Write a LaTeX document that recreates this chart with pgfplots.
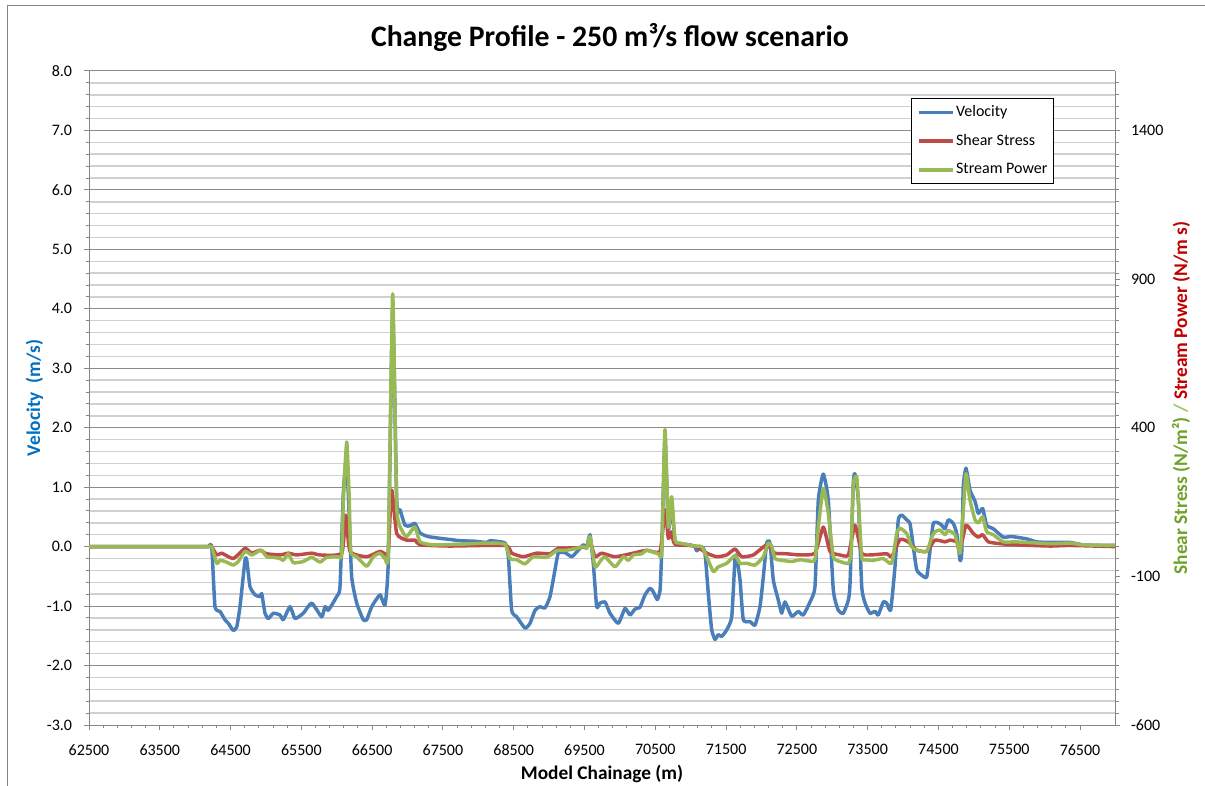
\documentclass[border=0pt]{standalone}
\usepackage{fontspec}
\setmainfont{Carlito}
\usepackage{pgfplots}
\usepackage{pgfplotstable}
\pgfplotsset{compat=1.18}

\definecolor{velblue}{HTML}{4A7EBB}
\definecolor{shearred}{HTML}{BE4B48}
\definecolor{powgreen}{HTML}{98B954}
\definecolor{gridmaj}{HTML}{8C8C8C}
\definecolor{gridmin}{HTML}{D0D0D0}
\definecolor{axisgray}{HTML}{868686}
\definecolor{labblue}{HTML}{0070C0}
\definecolor{labgreen}{HTML}{6FA22A}
\definecolor{labslash}{HTML}{9BCB5A}
\definecolor{labred}{HTML}{C00000}

% velocity (m/s)
\pgfplotstableread{
x v
62500 0
63000 0
63500 0
64000 0
64180 0
64233 0
64280 -1.01
64351 -1.09
64421 -1.23
64468 -1.29
64539 -1.41
64587 -1.35
64633 -1.01
64704 -0.23
64728 -0.22
64774 -0.67
64845 -0.81
64916 -0.84
64940 -0.79
64986 -1.12
65033 -1.21
65104 -1.12
65198 -1.15
65245 -1.23
65340 -1.01
65410 -1.21
65527 -1.12
65646 -0.95
65787 -1.18
65834 -1.01
65881 -1.07
65999 -0.84
66046 -0.67
66093 0.90
66138 1.50
66173 0.60
66211 -0.51
66282 -0.95
66375 -1.23
66423 -1.23
66494 -1.01
66611 -0.81
66682 -0.98
66728 -0.23
66790 4.00
66847 0.78
66894 0.62
66964 0.36
67035 0.35
67105 0.39
67176 0.23
67289 0.17
67459 0.14
67600 0.12
67741 0.10
67953 0.09
68118 0.07
68165 0.10
68377 0.06
68424 -0.17
68471 -1.07
68542 -1.18
68659 -1.37
68730 -1.29
68801 -1.07
68871 -1.01
68942 -1.03
69013 -0.84
69083 -0.39
69130 -0.11
69224 -0.10
69319 -0.17
69412 -0.06
69483 0.03
69531 0.00
69578 0.20
69624 -0.28
69672 -1.01
69719 -0.95
69790 -0.93
69860 -1.12
69977 -1.29
70072 -1.04
70143 -1.15
70213 -1.05
70284 -1.02
70355 -0.81
70425 -0.70
70472 -0.76
70528 -0.89
70567 -0.73
70591 -0.06
70637 1.85
70684 0.30
70732 0.70
70778 0.10
70849 0.05
70990 0.03
71061 0.00
71085 -0.07
71155 0.00
71202 -0.11
71249 -0.79
71297 -1.40
71344 -1.56
71390 -1.48
71438 -1.51
71509 -1.40
71580 -1.18
71626 -0.20
71650 -0.17
71697 -0.56
71743 -1.23
71838 -1.26
71909 -1.32
71979 -1.01
72026 -0.51
72074 0.06
72121 0.06
72167 -0.56
72238 -0.90
72286 -1.12
72332 -0.93
72427 -1.17
72520 -1.09
72591 -1.15
72686 -0.93
72756 -0.67
72803 0.78
72873 1.22
72944 0.78
73015 -0.73
73085 -1.07
73156 -1.12
73227 -0.90
73251 -0.62
73297 1.06
73321 1.22
73368 0.78
73416 -0.67
73463 -0.95
73533 -1.12
73604 -1.09
73650 -1.15
73721 -0.93
73769 -0.95
73825 -1.07
73886 -0.34
73933 0.45
73981 0.53
74052 0.45
74098 0.39
74145 0.00
74193 -0.39
74264 -0.48
74334 -0.51
74381 -0.06
74427 0.39
74498 0.40
74546 0.36
74593 0.30
74639 0.45
74710 0.39
74758 0.22
74805 -0.23
74829 -0.10
74851 1.01
74889 1.32
74946 0.95
75017 0.76
75063 0.56
75125 0.64
75182 0.36
75275 0.30
75416 0.16
75535 0.17
75747 0.13
75888 0.08
76076 0.07
76359 0.07
76542 0.03
76782 0.02
77000 0.02
}\velocity

% shear stress (right axis units)
\pgfplotstableread{
x s
62500 0
63000 0
63500 0
64000 0
64180 0
64233 0
64304 -28
64375 -22
64539 -40
64704 -6
64798 -22
64916 -12
65010 -24
65198 -28
65316 -22
65434 -28
65646 -22
65763 -28
66070 -22
66126 106
66187 -16
66423 -34
66611 -16
66706 -28
66728 -20
66776 190
66847 44
66988 22
67105 22
67176 6
67600 2
68377 4
68471 -22
68635 -34
68825 -22
69013 -24
69130 -6
69390 -4
69531 0
69578 20
69648 -34
69743 -22
69931 -34
70189 -22
70379 -12
70567 -16
70637 124
70684 28
70722 50
70778 8
71061 2
71226 -22
71368 -34
71509 -28
71626 -8
71721 -34
71885 -28
72074 6
72191 -22
72356 -24
72544 -28
72756 -22
72873 66
72968 -16
73109 -28
73227 -28
73321 72
73416 -22
73533 -28
73769 -24
73840 -34
73957 24
74074 16
74193 -12
74334 -16
74451 22
74593 16
74663 22
74758 16
74805 -12
74889 72
74993 44
75063 32
75125 40
75205 16
75370 10
75606 6
76076 2
76359 4
77000 0
}\shear

% stream power (right axis units)
\pgfplotstableread{
x p
62500 0
63000 0
63500 0
64000 0
64180 0
64233 0
64304 -56
64351 -46
64421 -50
64539 -62
64609 -50
64704 -16
64798 -28
64892 -16
64940 -12
65010 -34
65104 -36
65198 -40
65245 -46
65316 -24
65386 -54
65527 -50
65646 -36
65763 -52
65858 -36
66022 -34
66070 -30
66093 156
66141 352
66177 156
66197 -16
66282 -34
66423 -66
66516 -34
66611 -22
66682 -40
66728 -16
66790 850
66847 134
66918 56
66988 34
67105 66
67176 16
67360 6
67741 8
68118 12
68377 8
68447 -40
68542 -44
68659 -58
68777 -34
68966 -36
69107 -14
69249 -12
69390 -6
69483 0
69531 -6
69578 34
69648 -68
69719 -50
69790 -34
69931 -68
70048 -34
70119 -46
70189 -28
70308 -24
70379 -12
70543 -24
70591 -20
70637 394
70684 66
70732 168
70778 22
70849 12
71061 2
71155 0
71226 -34
71320 -84
71390 -68
71509 -56
71626 -30
71697 -56
71791 -56
71909 -62
72026 -34
72096 12
72144 2
72191 -40
72286 -46
72427 -50
72544 -44
72662 -48
72756 -44
72803 66
72873 196
72944 112
73015 -34
73109 -50
73227 -56
73265 -20
73297 210
73345 236
73368 160
73416 -34
73463 -44
73580 -46
73721 -40
73840 -56
73910 44
73957 62
74052 44
74122 0
74193 -12
74334 -16
74405 32
74451 50
74522 56
74593 40
74639 54
74734 40
74805 -22
74851 120
74889 246
74946 156
75017 90
75063 80
75125 100
75182 50
75275 40
75416 16
75606 16
76076 10
76359 12
76542 6
77000 4
}\power

\pgfplotsset{
  base/.style={
    scale only axis, width=769.8pt, height=490.5pt,
    at={(axsw)}, anchor=south west,
    xmin=62500, xmax=77000,
    tick align=outside,
    major tick length=3.5pt, minor tick length=2.5pt,
    tick style={axisgray, line width=0.75pt},
    axis line style={axisgray, line width=0.75pt},
    tick label style={font=\fontsize{12}{14}\selectfont,
      /pgf/number format/assume math mode=true},
  },
  ser/.style={line width=2.6pt, line join=round, smooth, tension=0.3},
}

\begin{document}
\begin{tikzpicture}[x=0.75pt,y=0.75pt]
\useasboundingbox (0,0) rectangle (1205,785);
\draw[axisgray, line width=0.75pt] (7,779) rectangle (1240,-20);
\coordinate (axsw) at (89,60);

\begin{axis}[base,
  ymin=-3, ymax=8, ytick={-3,-2,...,8}, minor y tick num=4,
  ymajorgrids, yminorgrids,
  major grid style={gridmaj, line width=0.75pt},
  minor grid style={gridmin, line width=1.1pt},
  axis x line*=bottom, axis y line*=left,
  xtick={62500,63500,...,76500}, minor x tick num=4,
  scaled x ticks=false,
  xticklabel style={anchor=north, inner sep=0pt, yshift=-11pt,
    /pgf/number format/fixed, /pgf/number format/1000 sep={}},
  yticklabel style={anchor=east, inner sep=0pt, xshift=-9pt,
    /pgf/number format/fixed, /pgf/number format/fixed zerofill,
    /pgf/number format/precision=1},
]
\addplot[velblue, ser] table {\velocity};
\end{axis}

\begin{axis}[base,
  ymin=-600, ymax=1600, ytick={-600,-100,400,900,1400},
  minor ytick={-560,-520,...,1560},
  hide x axis, axis y line*=right,
  yticklabel style={anchor=west, inner sep=0pt, xshift=8pt,
    /pgf/number format/fixed, /pgf/number format/1000 sep={}},
  legend style={at={(0.8009,0.9587)}, anchor=north west,
    draw=black, line width=0.75pt, fill=white,
    font=\fontsize{12}{14}\selectfont,
    inner xsep=4pt, inner ysep=4pt, row sep=9pt,
    nodes={inner sep=0.8pt, text height=8.5pt, text depth=2.5pt}},
  legend cell align=left,
  legend image code/.code={\draw[#1] (0pt,0pt) -- (26pt,0pt);},
]
\addlegendimage{velblue, ser}
\addlegendentry{Velocity}
\addplot[shearred, ser] table {\shear};
\addlegendentry{Shear Stress}
\addplot[powgreen, ser] table {\power};
\addlegendentry{Stream Power}
\end{axis}

\node[font=\bfseries\fontsize{22.3}{25}\selectfont, anchor=base] at (610,738)
  {Change Profile - 250 m³/s flow scenario};
\node[font=\bfseries\fontsize{14.5}{16}\selectfont, anchor=base] at (602,6)
  {Model Chainage (m)};
\node[font=\bfseries\fontsize{14.5}{16}\selectfont, text=labblue, rotate=90,
  anchor=base] at (40,387) {Velocity\ \ (m/s)};
\node[font=\bfseries\fontsize{14.5}{16}\selectfont, rotate=90, anchor=base]
  at (1187,387) {\textcolor{labgreen}{Shear Stress (N/m²)}
  \textcolor{labslash}{/} \textcolor{labred}{Stream Power (N/m s)}};
\end{tikzpicture}
\end{document}
